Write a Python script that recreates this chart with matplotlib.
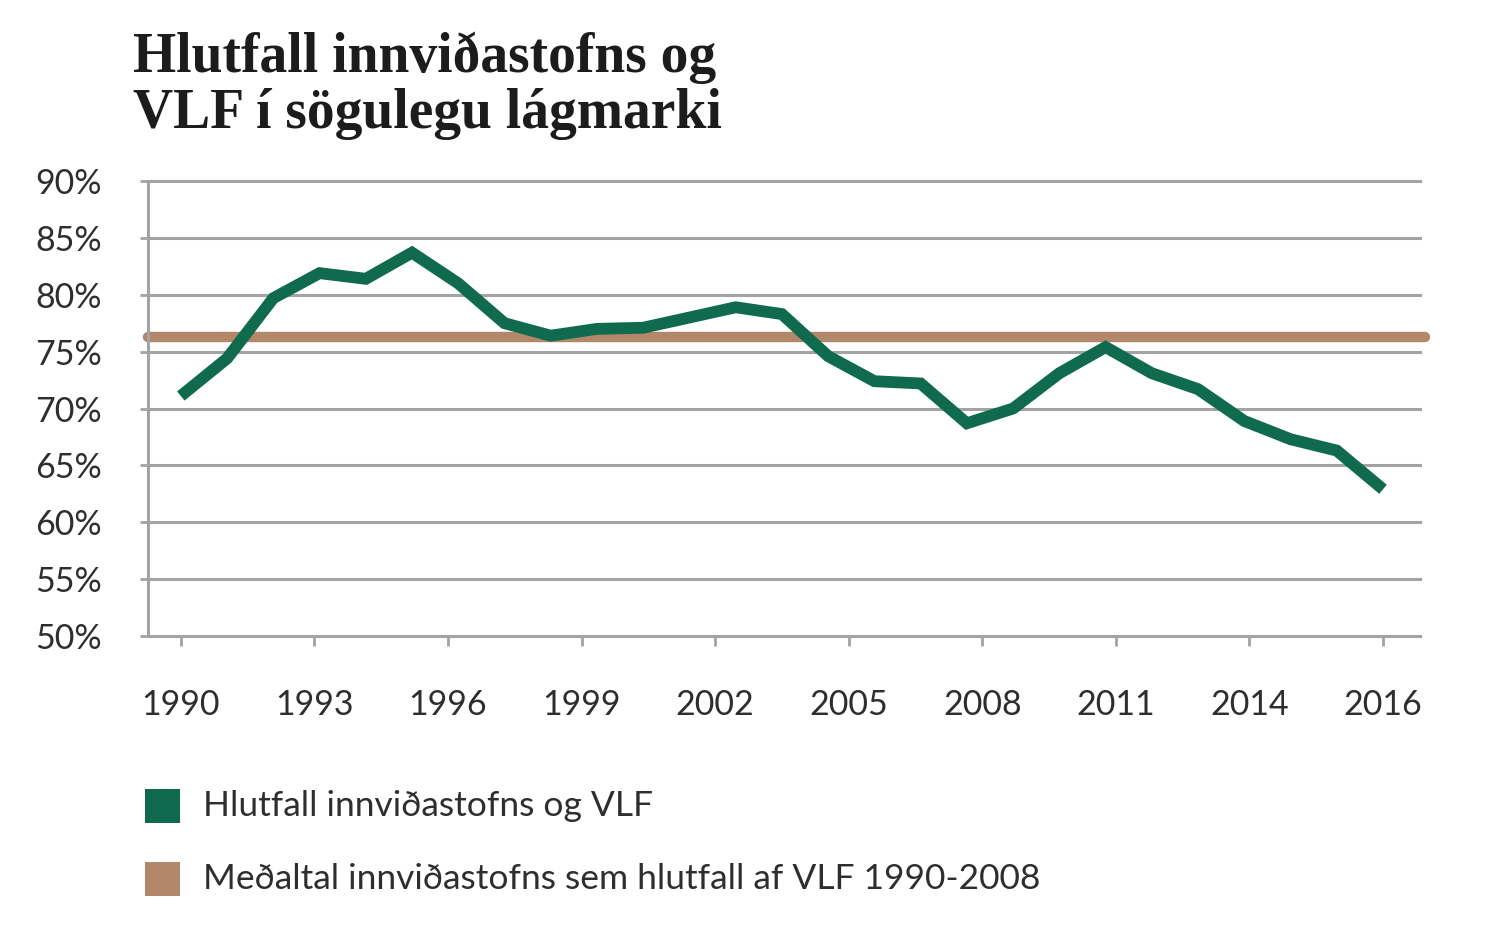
import matplotlib
matplotlib.use("Agg")
import matplotlib.pyplot as plt
from matplotlib.patches import Rectangle
import numpy as np

# data
years = list(range(1990, 2017))
hlutfall = [71.1, 74.4, 79.7, 81.9, 81.4, 83.7, 81.0, 77.5, 76.4, 77.0,
            77.1, 78.0, 78.9, 78.3, 74.6, 72.4, 72.2, 68.7, 70.0, 73.1,
            75.4, 73.1, 71.7, 68.9, 67.3, 66.3, 62.9]
medaltal = 76.3
tick_labels = ["1990", "1993", "1996", "1999", "2002", "2005", "2008", "2011", "2014", "2016"]
y_ticks = [50, 55, 60, 65, 70, 75, 80, 85, 90]

title = "Hlutfall innviðastofns og\nVLF í sögulegu lágmarki"
legend_labels = ["Hlutfall innviðastofns og VLF",
                 "Meðaltal innviðastofns sem hlutfall af VLF 1990-2008"]

green = "#0f6a4e"
brown = "#b2876a"
grid_col = "#a3a3a3"
text_col = "#2e2e2e"
sans = ["Lato", "DejaVu Sans"]

fig = plt.figure(figsize=(14.87, 9.34), dpi=100)
ax = fig.add_axes([148 / 1487, 1 - 636 / 934, (1420 - 148) / 1487, (636 - 181) / 934])

for v in y_ticks[1:]:
    ax.axhline(v, color=grid_col, lw=2.2, zorder=1, clip_on=False)

ax.plot([1989.3, 2016.9], [medaltal, medaltal], color=brown, lw=7.5,
        solid_capstyle="round", zorder=2, clip_on=False)
ax.plot(years, hlutfall, color=green, lw=8.5, solid_joinstyle="miter",
        solid_capstyle="butt", zorder=3)

ax.set_xlim(1989.29, 2016.8)
ax.set_ylim(50, 90)
ax.set_xticks(np.linspace(years[0], years[-1], len(tick_labels)))
ax.set_xticklabels(tick_labels)
ax.set_yticks(y_ticks)
ax.set_yticklabels([f"{v}%" for v in y_ticks])

for s in ["top", "right"]:
    ax.spines[s].set_visible(False)
for s in ["left", "bottom"]:
    ax.spines[s].set_color(grid_col)
    ax.spines[s].set_linewidth(2.2)

ax.tick_params(axis="x", length=7, width=2, color=grid_col, pad=31,
               labelsize=24.5, labelcolor=text_col)
ax.tick_params(axis="y", length=6, width=2, color=grid_col, pad=27,
               labelsize=24.5, labelcolor=text_col)
for lab in ax.get_xticklabels() + ax.get_yticklabels():
    lab.set_family(sans)

fig.text(133 / 1487, 1 - 31 / 934, title, ha="left", va="top",
         family=["Liberation Serif", "DejaVu Serif"], fontweight="bold",
         fontsize=40, color="#1c1c1c", linespacing=1.12)

# legend drawn by hand
for i, (lab, col) in enumerate(zip(legend_labels, [green, brown])):
    yc = 1 - (806 + i * 73) / 934
    fig.add_artist(Rectangle((145 / 1487, yc - 17 / 934), 35 / 1487, 34 / 934,
                             transform=fig.transFigure, facecolor=col, edgecolor="none"))
    fig.text(203 / 1487, yc, lab, ha="left", va="center", family=sans,
             fontsize=25.5, color=text_col)

fig.savefig("out.png", dpi=100, facecolor="white")
